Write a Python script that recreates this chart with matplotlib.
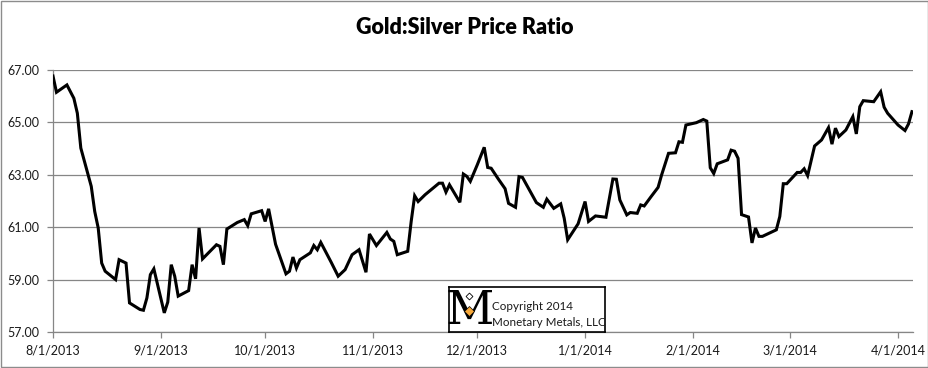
import matplotlib
matplotlib.use("Agg")
import matplotlib.pyplot as plt
import pandas as pd
from matplotlib.patches import Rectangle

title = "Gold:Silver Price Ratio"
dates = [
    "2013-08-01", "2013-08-02", "2013-08-05", "2013-08-07", "2013-08-08", "2013-08-09",
    "2013-08-12", "2013-08-13", "2013-08-14", "2013-08-15", "2013-08-16", "2013-08-19",
    "2013-08-20", "2013-08-22", "2013-08-23", "2013-08-26", "2013-08-27", "2013-08-28",
    "2013-08-29", "2013-08-30", "2013-09-02", "2013-09-03", "2013-09-04", "2013-09-05",
    "2013-09-06", "2013-09-09", "2013-09-10", "2013-09-11", "2013-09-12", "2013-09-13",
    "2013-09-17", "2013-09-18", "2013-09-19", "2013-09-20", "2013-09-23", "2013-09-25",
    "2013-09-26", "2013-09-27", "2013-09-30", "2013-10-01", "2013-10-02", "2013-10-04",
    "2013-10-07", "2013-10-08", "2013-10-09", "2013-10-10", "2013-10-11", "2013-10-14",
    "2013-10-15", "2013-10-16", "2013-10-17", "2013-10-20", "2013-10-22", "2013-10-24",
    "2013-10-26", "2013-10-28", "2013-10-30", "2013-10-31", "2013-11-02", "2013-11-05",
    "2013-11-06", "2013-11-07", "2013-11-08", "2013-11-11", "2013-11-12", "2013-11-13",
    "2013-11-14", "2013-11-16", "2013-11-20", "2013-11-21", "2013-11-22", "2013-11-23",
    "2013-11-26", "2013-11-27", "2013-11-28", "2013-11-29", "2013-12-01", "2013-12-03",
    "2013-12-04", "2013-12-05", "2013-12-07", "2013-12-09", "2013-12-10", "2013-12-12",
    "2013-12-13", "2013-12-14", "2013-12-18", "2013-12-20", "2013-12-21", "2013-12-23",
    "2013-12-25", "2013-12-26", "2013-12-27", "2013-12-30", "2014-01-01", "2014-01-02",
    "2014-01-04", "2014-01-07", "2014-01-09", "2014-01-10", "2014-01-11", "2014-01-13",
    "2014-01-14", "2014-01-16", "2014-01-17", "2014-01-18", "2014-01-20", "2014-01-22",
    "2014-01-23", "2014-01-25", "2014-01-27", "2014-01-28", "2014-01-29", "2014-01-30",
    "2014-02-02", "2014-02-04", "2014-02-05", "2014-02-06", "2014-02-07", "2014-02-08",
    "2014-02-11", "2014-02-12", "2014-02-13", "2014-02-14", "2014-02-15", "2014-02-17",
    "2014-02-18", "2014-02-19", "2014-02-20", "2014-02-21", "2014-02-25", "2014-02-26",
    "2014-02-27", "2014-02-28", "2014-03-03", "2014-03-04", "2014-03-05", "2014-03-06",
    "2014-03-08", "2014-03-10", "2014-03-12", "2014-03-13", "2014-03-14", "2014-03-15",
    "2014-03-17", "2014-03-19", "2014-03-20", "2014-03-21", "2014-03-22", "2014-03-25",
    "2014-03-27", "2014-03-28", "2014-03-29", "2014-04-01", "2014-04-03", "2014-04-04",
    "2014-04-05",
]
ratio = [
    66.77, 66.15, 66.43, 65.92, 65.35, 64.02,
    62.56, 61.60, 60.97, 59.63, 59.32, 59.00,
    59.76, 59.63, 58.11, 57.86, 57.83, 58.30,
    59.19, 59.41, 57.73, 58.14, 59.57, 59.13,
    58.37, 58.58, 59.57, 59.03, 60.97, 59.79,
    60.33, 60.27, 59.57, 60.93, 61.18, 61.29,
    61.06, 61.51, 61.63, 61.22, 61.70, 60.35,
    59.22, 59.32, 59.86, 59.44, 59.76, 60.02,
    60.30, 60.14, 60.42, 59.66, 59.13, 59.38,
    59.95, 60.14, 59.28, 60.74, 60.30, 60.80,
    60.55, 60.46, 59.95, 60.08, 61.22, 62.20,
    61.98, 62.24, 62.68, 62.68, 62.34, 62.62,
    61.95, 63.03, 62.94, 62.75, 63.38, 64.05,
    63.28, 63.25, 62.85, 62.47, 61.91, 61.76,
    62.93, 62.90, 61.94, 61.76, 62.07, 61.72,
    61.89, 61.34, 60.52, 61.13, 61.98, 61.22,
    61.43, 61.38, 62.84, 62.83, 62.04, 61.47,
    61.56, 61.53, 61.85, 61.81, 62.17, 62.52,
    62.99, 63.82, 63.84, 64.26, 64.24, 64.90,
    64.99, 65.11, 65.05, 63.27, 63.05, 63.42,
    63.57, 63.94, 63.90, 63.63, 61.48, 61.39,
    60.40, 60.97, 60.65, 60.65, 60.90, 61.41,
    62.66, 62.66, 63.09, 63.09, 63.23, 62.97,
    64.10, 64.33, 64.80, 64.17, 64.78, 64.46,
    64.71, 65.22, 64.56, 65.60, 65.83, 65.79,
    66.17, 65.58, 65.35, 64.90, 64.69, 64.94,
    65.41,
]
x_ticks = ["2013-08-01", "2013-09-01", "2013-10-01", "2013-11-01", "2013-12-01",
           "2014-01-01", "2014-02-01", "2014-03-01", "2014-04-01"]
x_tick_labels = ["8/1/2013", "9/1/2013", "10/1/2013", "11/1/2013", "12/1/2013",
                 "1/1/2014", "2/1/2014", "3/1/2014", "4/1/2014"]
y_ticks = [57, 59, 61, 63, 65, 67]
copyright_lines = ["Copyright 2014", "Monetary Metals, LLC"]

plt.rcParams['font.family'] = ['Lato', 'DejaVu Sans']

fig = plt.figure(figsize=(9.29, 3.68), dpi=100)
fig.patch.set_facecolor("white")
fig.patches.append(Rectangle((0.0015, 0.003), 0.997, 0.993, transform=fig.transFigure,
                             fill=False, edgecolor="#8c8c8c", linewidth=1.0))

ax = fig.add_axes([53 / 929, 1 - 332 / 368, (913 - 53) / 929, (332 - 70) / 368])
gcol = "#868686"
x = pd.to_datetime(dates)
ax.plot(x, ratio, color="black", linewidth=2.2, solid_joinstyle="miter", zorder=3)

ax.set_ylim(57, 67)
ax.set_yticks(y_ticks)
ax.set_yticklabels([f"{v:.2f}" for v in y_ticks], fontsize=9)
xt = pd.to_datetime(x_ticks)
ax.set_xticks(xt)
ax.set_xticklabels(x_tick_labels, fontsize=9)
ax.set_xlim(pd.Timestamp("2013-08-01"), pd.Timestamp("2013-08-01") + pd.Timedelta(days=247.3))

ax.grid(axis="y", color=gcol, linewidth=0.9)
ax.set_axisbelow(True)
for s in ["top", "right"]:
    ax.spines[s].set_visible(False)
for s in ["left", "bottom"]:
    ax.spines[s].set_color(gcol)
    ax.spines[s].set_linewidth(0.9)
ax.tick_params(axis="both", color=gcol, length=4, width=0.9, direction="out", labelcolor="#1a1a1a")
ax.tick_params(axis="y", pad=6)
ax.tick_params(axis="x", pad=5)

fig.text(0.5, 1 - 27 / 368, title, ha="center", va="center", fontsize=15.5, fontweight="heavy")

# Logo / copyright box
lax = fig.add_axes([449 / 929, 1 - 332 / 368, (605 - 449) / 929, (332 - 287) / 368])
lax.set_xlim(0, 156)
lax.set_ylim(45, 0)
lax.set_xticks([])
lax.set_yticks([])
for s in lax.spines.values():
    s.set_color("black")
    s.set_linewidth(1.2)
lax.set_zorder(5)
lax.text(20.5, 24, "M", family="DejaVu Serif", fontsize=34, ha="center", va="center",
         color="black", zorder=2)
lax.plot([20.5], [24], marker="D", markersize=5.5, color="#f7a93b", markeredgecolor="black",
         markeredgewidth=0.5, zorder=4)
lax.plot([20.5], [9], marker="D", markersize=3.5, color="white", markeredgecolor="black",
         markeredgewidth=0.6, zorder=4)
lax.text(43, 19, copyright_lines[0], fontsize=8.4, ha="left", va="center", color="#1a1a1a")
lax.text(43, 35, copyright_lines[1], fontsize=8.4, ha="left", va="center", color="#1a1a1a")

fig.savefig("out.png", dpi=100)
